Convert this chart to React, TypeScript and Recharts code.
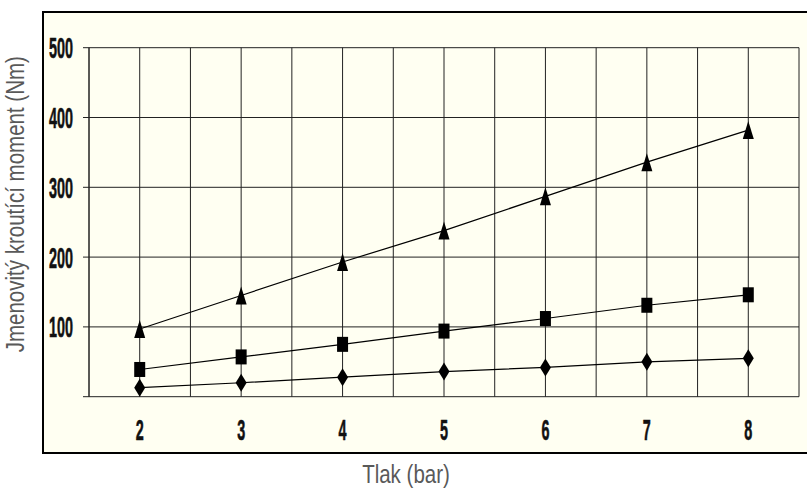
import React from 'react';
import { LineChart, Line, XAxis, YAxis, CartesianGrid, ReferenceLine, Label } from 'recharts';

// tlak (bar)
const pressures = [2, 3, 4, 5, 6, 7, 8];
// jmenovitý kroutící moment (Nm) for the three sizes
const torqueTriangle = [97, 145, 193, 238, 287, 336, 382];
const torqueSquare = [39, 57, 75, 94, 112, 131, 146];
const torqueDiamond = [13, 20, 28, 36, 42, 50, 55];

const yTicks = [0, 100, 200, 300, 400, 500];
const xGridLines = [1.5, 2, 2.5, 3, 3.5, 4, 4.5, 5, 5.5, 6, 6.5, 7, 7.5, 8, 8.5];

const data = pressures.map((p, i) => ({
  p,
  tri: torqueTriangle[i],
  sq: torqueSquare[i],
  dia: torqueDiamond[i],
}));

const tickFont = {
  fontFamily: '"Liberation Sans", Arial, sans-serif',
  fontWeight: 700,
  fontSize: 30,
  fill: '#111',
  stroke: '#111',
  strokeWidth: 0.6,
};
const titleFont = { fontFamily: '"Liberation Sans", Arial, sans-serif', fontSize: 25, fill: '#595959' };

const XTick = (props: any) => {
  const { x, y, payload } = props;
  return (
    <g transform={`translate(${x},${y})`}>
      <text {...tickFont} textAnchor="middle" transform="scale(0.48,1)" dy={35}>
        {payload.value}
      </text>
    </g>
  );
};

const YTick = (props: any) => {
  const { x, y, payload } = props;
  if (payload.value === 0) return <g />;
  return (
    <g transform={`translate(${x - 8},${y})`}>
      <text {...tickFont} textAnchor="end" transform="scale(0.48,1)" dy={10.5}>
        {payload.value}
      </text>
    </g>
  );
};

const triangle = (props: any) => {
  const { cx, cy, index } = props;
  return <path key={`t-${index}`} d={`M${cx},${cy - 9} L${cx + 5.5},${cy + 9} L${cx - 5.5},${cy + 9} Z`} fill="#000" />;
};

const square = (props: any) => {
  const { cx, cy, index } = props;
  return <rect key={`s-${index}`} x={cx - 5.5} y={cy - 7.5} width={11} height={15} fill="#000" />;
};

const diamond = (props: any) => {
  const { cx, cy, index } = props;
  return <path key={`d-${index}`} d={`M${cx},${cy - 9} L${cx + 5.5},${cy} L${cx},${cy + 9} L${cx - 5.5},${cy} Z`} fill="#000" />;
};

const YTitle = (props: any) => {
  const { viewBox } = props;
  const cy = viewBox.y + viewBox.height / 2 - 18;
  return (
    <text {...titleFont} textAnchor="middle" transform={`translate(24,${cy}) rotate(-90) scale(0.82,1)`}>
      Jmenovitý kroutící moment (Nm)
    </text>
  );
};

const XTitle = (props: any) => {
  const { viewBox } = props;
  const cx = viewBox.x + viewBox.width / 2 - 38;
  return (
    <text {...titleFont} textAnchor="middle" transform={`translate(${cx},483) scale(0.82,1)`}>
      Tlak (bar)
    </text>
  );
};

export default function App() {
  return (
    <div style={{ position: 'absolute', left: 0, top: 0, width: 807, height: 492, background: '#fff', overflow: 'hidden' }}>
      <div
        style={{
          position: 'absolute',
          left: 42,
          top: 11,
          width: 820,
          height: 439,
          border: '2px solid #000',
          background: '#fffff2',
        }}
      />
      <div style={{ position: 'absolute', left: 0, top: 0 }}>
        <LineChart width={807} height={492} data={data} margin={{ top: 47.7, right: 8, bottom: 35.3, left: 0 }}>
          <CartesianGrid vertical={false} stroke="#222" />
          {xGridLines.map((v) => (
            <ReferenceLine key={v} x={v} stroke="#222" />
          ))}
          <XAxis
            dataKey="p"
            type="number"
            domain={[1.5, 8.5]}
            ticks={pressures}
            interval={0}
            axisLine={false}
            tickLine={false}
            height={60}
            tick={<XTick />}
          >
            <Label content={<XTitle />} />
          </XAxis>
          <YAxis
            type="number"
            domain={[0, 500]}
            ticks={yTicks}
            interval={0}
            width={89}
            axisLine={{ stroke: '#222' }}
            tickLine={{ stroke: '#222' }}
            tickSize={6}
            tick={<YTick />}
          >
            <Label content={<YTitle />} />
          </YAxis>
          <Line dataKey="tri" type="linear" stroke="#000" strokeWidth={1.2} dot={triangle} activeDot={false} isAnimationActive={false} />
          <Line dataKey="sq" type="linear" stroke="#000" strokeWidth={1.2} dot={square} activeDot={false} isAnimationActive={false} />
          <Line dataKey="dia" type="linear" stroke="#000" strokeWidth={1.2} dot={diamond} activeDot={false} isAnimationActive={false} />
        </LineChart>
      </div>
    </div>
  );
}
